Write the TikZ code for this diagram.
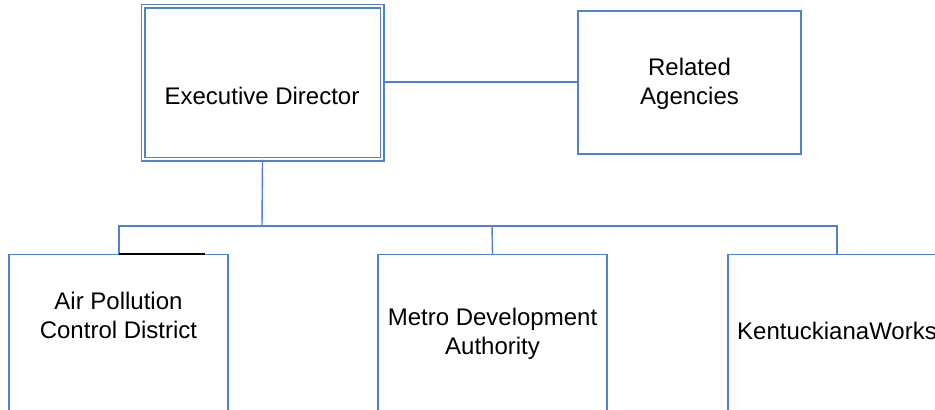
\documentclass[tikz,border=0pt]{standalone}
\usepackage{fontspec}
\setmainfont{Liberation Sans}
\definecolor{boxblue}{RGB}{80,130,205}
\begin{document}
\begin{tikzpicture}[x=0.5pt,y=-0.5pt,
  box/.style={draw=boxblue,line width=0.7pt,fill=white,inner sep=0pt},
  txt/.style={inner sep=0pt,align=center,font=\fontsize{12}{14.5}\selectfont},
  conn/.style={draw=boxblue,line width=0.7pt}]
\useasboundingbox (0,0) rectangle (935,409);
\clip (0,0) rectangle (935,409);
% boxes
\node[box,minimum width=239*0.5pt,minimum height=153*0.5pt,double=white,double distance=1.4pt,line width=0.55pt] (ed) at (262.5,82.5) {};
\node[box,minimum width=223*0.5pt,minimum height=143*0.5pt] (ra) at (689.5,82.5) {};
\node[box,minimum width=219*0.5pt,minimum height=160*0.5pt,anchor=north] (ap) at (118.5,254) {};
\node[box,minimum width=229*0.5pt,minimum height=160*0.5pt,anchor=north] (md) at (492.5,254) {};
\node[box,minimum width=218*0.5pt,minimum height=160*0.5pt,anchor=north] (kw) at (837,254) {};
% texts
\node[txt] (edt) at (262,96) {Executive Director};
\node[txt] (rat) at (689.5,83.5) {Related\\Agencies};
\node[txt] (apt) at (118.5,315) {Air Pollution\\Control District};
\node[txt] (mdt) at (492.5,334) {Metro Development\\Authority};
\node[txt] (kwt) at (837,331) {KentuckianaWorks};
% connectors
\coordinate (bar) at (262,226);
\draw[conn] (ed.east |- 0,82) -- (ra.west |- 0,82);
\draw[conn] (ed.south) -- (bar);
\draw[conn] (ap.north -| 119,0) |- (bar) -| (kw.north);
\draw[conn] (bar -| 492,0) -- (md.north);
\draw[black,line width=0.7pt] (119,254) -- (205,254);
\end{tikzpicture}
\end{document}
